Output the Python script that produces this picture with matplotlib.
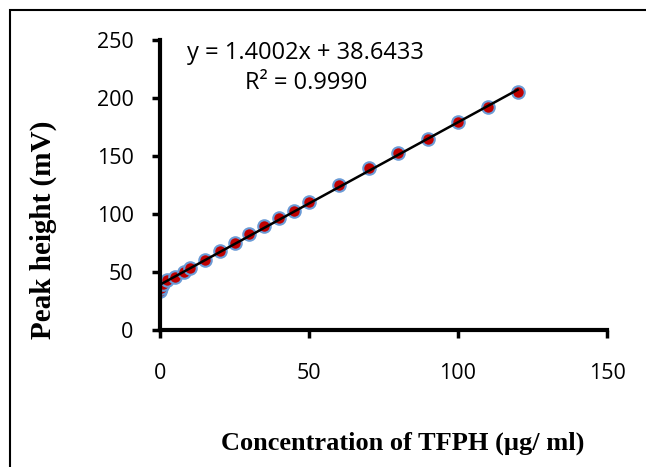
import numpy as np
import matplotlib.pyplot as plt
from matplotlib.patches import Rectangle

# calibration data
conc = [0.1, 0.5, 1, 2.5, 5, 8, 10, 15, 20, 25, 30, 35, 40, 45, 50,
        60, 70, 80, 90, 100, 110, 120]
peak = [33.5, 36, 39.5, 42.5, 45, 49.5, 53, 60, 68, 75, 82, 89, 96, 102.5, 110,
        124.5, 139.5, 152.5, 164.5, 178.5, 192, 205]
slope, intercept = 1.4002, 38.6433
r2 = 0.9990

W, H = 646, 467
fig = plt.figure(figsize=(W / 100, H / 100), dpi=100)
ax = fig.add_axes([160 / W, 1 - 329.5 / H, 447 / W, 290 / H])

ax.plot(conc, peak, 'o', ms=9, mfc='#C00000', mec='#6B9BD6', mew=1.5,
        ls='none', zorder=2)
xf = np.array([min(conc), max(conc)])
ax.plot(xf, slope * xf + intercept, color='black', lw=1.8, zorder=3)

ax.set_xlim(0, 150)
ax.set_ylim(0, 250)
ax.set_xticks([0, 50, 100, 150])
ax.set_yticks([0, 50, 100, 150, 200, 250])
for s in ['top', 'right']:
    ax.spines[s].set_visible(False)
for s in ['left', 'bottom']:
    ax.spines[s].set_linewidth(3)
ax.tick_params(direction='out', length=6, width=2.5, labelsize=15.5)
ax.tick_params(axis='x', pad=18)
ax.tick_params(axis='y', pad=13)
for lab in ax.get_xticklabels() + ax.get_yticklabels():
    lab.set_family('Open Sans')

xl = ax.set_xlabel('Concentration of TFPH (µg/ ml)', family='Liberation Serif',
                   weight='bold', fontsize=19)
xl.set_va('center')
ax.xaxis.set_label_coords((403 - 160) / 447, (329.5 - 443) / 290)
yl = ax.set_ylabel('Peak height (mV)', family='Liberation Serif',
                   weight='bold', fontsize=21)
yl.set_va('center')
ax.yaxis.set_label_coords((43 - 160) / 447, (329.5 - 230) / 290)

fig.text(305 / W, 1 - 53 / H, f'y = {slope:.4f}x + {intercept:.4f}',
         ha='center', va='center', fontsize=17, family='Open Sans')
fig.text(306 / W, 1 - 83 / H, f'R² = {r2:.4f}',
         ha='center', va='center', fontsize=17, family='Open Sans')

# outer frame (right and bottom edges fall outside the image)
fig.patches.append(Rectangle((10 / W, -0.1), 1.2, 1.1 - 10 / H,
                             transform=fig.transFigure, fill=False,
                             lw=1.5, ec='black'))

fig.savefig('out.png', dpi=100)
